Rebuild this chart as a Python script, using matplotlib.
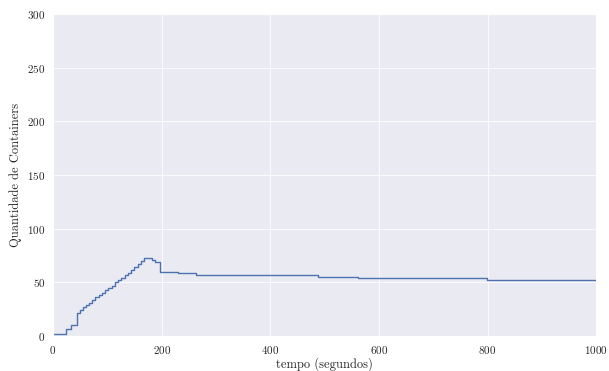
import matplotlib
matplotlib.use('Agg')
from matplotlib import pyplot as plt
import seaborn as sns

sns.set_style('darkgrid')
plt.rcParams['font.family'] = ['serif']
plt.rcParams['font.serif'] = ['cmr10', 'DejaVu Serif']
plt.rcParams['axes.formatter.use_mathtext'] = True

# step change times (s) and container counts after each change
tempo = [0, 24, 34, 45, 50, 55, 60, 66, 72, 78, 84, 90, 96, 102, 108, 114,
         120, 126, 132, 138, 144, 150, 156, 162, 168, 182, 188, 197, 230,
         264, 350, 488, 562, 799, 918, 1000]
containers = [2, 7, 10, 22, 24, 27, 29, 31, 34, 36, 38, 40, 43, 45, 47, 50,
              52, 54, 57, 59, 62, 64, 67, 70, 73, 71, 69, 60, 59,
              57, 56.5, 55, 54, 52.5, 52, 52]

fig = plt.figure(figsize=(6.09, 3.71), dpi=100)
ax = fig.add_axes([0.087, 0.094, 0.892, 0.868])
ax.step(tempo, containers, where='post', color='#4C72B0', linewidth=1.0)

ax.set_xlim(0, 1000)
ax.set_ylim(0, 300)
ax.set_xticks([0, 200, 400, 600, 800, 1000])
ax.set_yticks([0, 50, 100, 150, 200, 250, 300])
ax.grid(True, color='white', linewidth=0.6)
ax.tick_params(labelsize=8, pad=2)
ax.set_xlabel('tempo (segundos)', fontsize=9, labelpad=1)
ax.set_ylabel('Quantidade de Containers', fontsize=9, labelpad=4)

fig.savefig('out.png', dpi=100)
